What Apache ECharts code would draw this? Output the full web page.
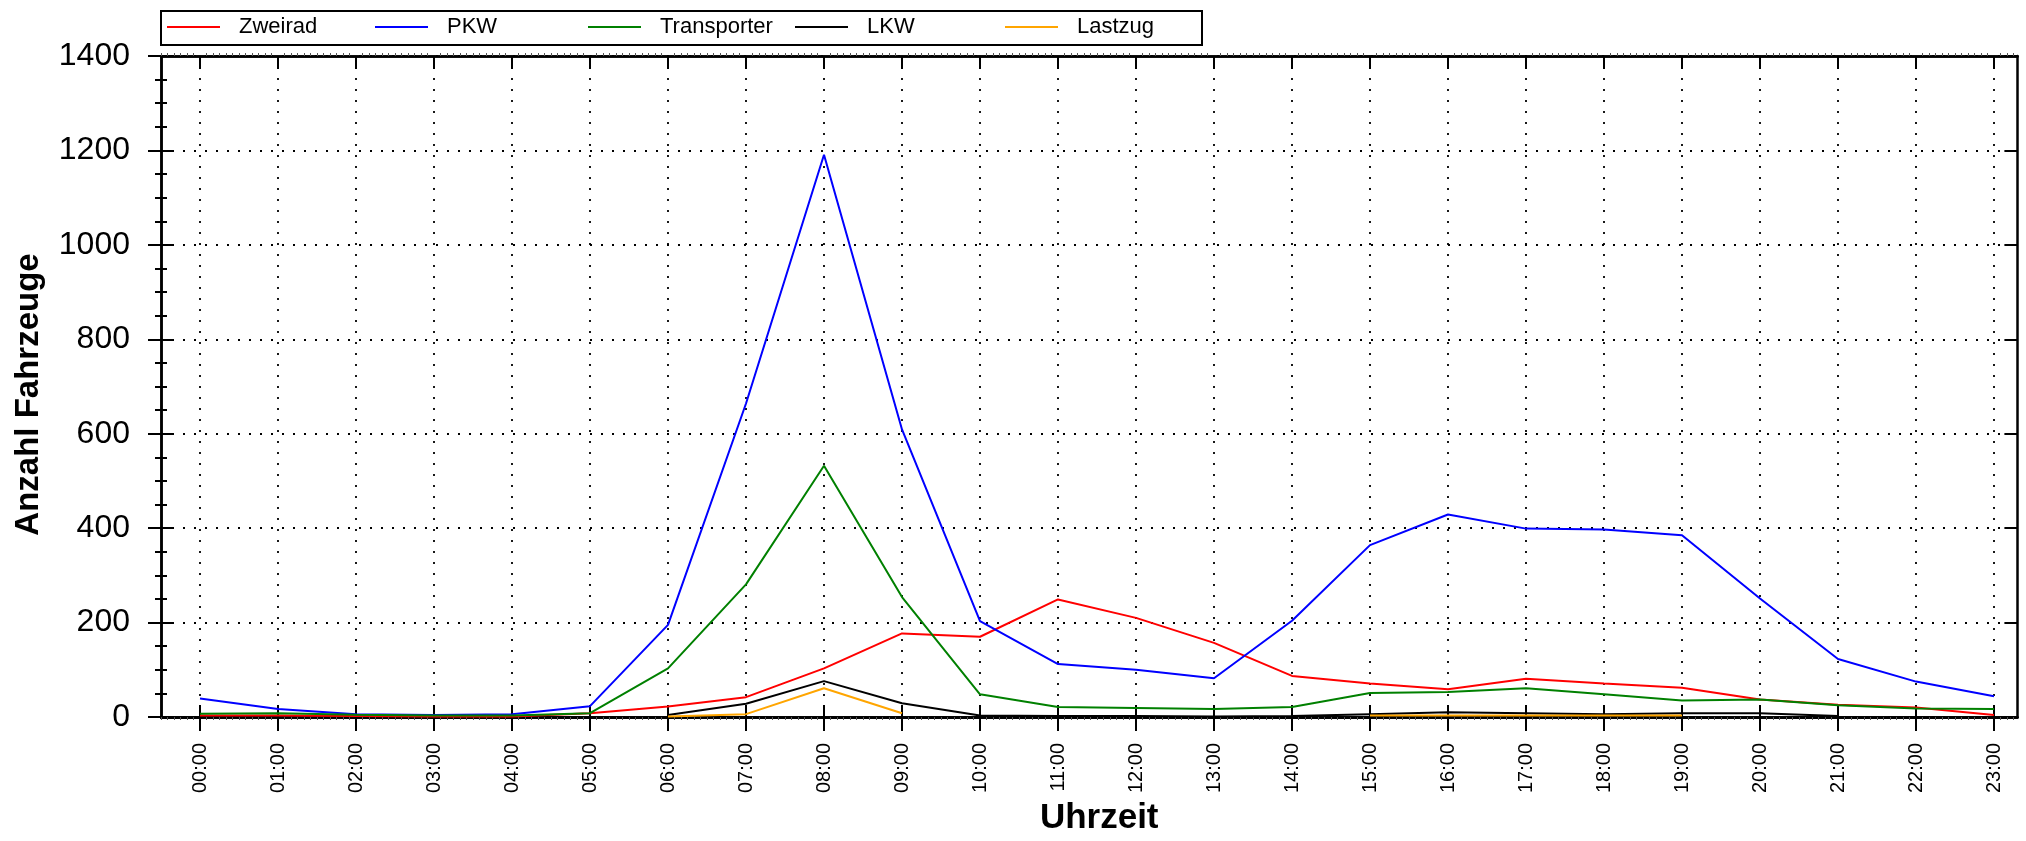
<!DOCTYPE html>
<html>
<head>
<meta charset="utf-8">
<script src="https://cdn.jsdelivr.net/npm/echarts@6/dist/echarts.min.js"></script>
<style>
html,body{margin:0;padding:0;background:#fff;}
#chart{width:2026px;height:841px;}
</style>
</head>
<body>
<div id="chart"></div>
<script>
// ---- data ----
const hours = [0,1,2,3,4,5,6,7,8,9,10,11,12,13,14,15,16,17,18,19,20,21,22,23];
const hourLabels = ['00:00','01:00','02:00','03:00','04:00','05:00','06:00','07:00','08:00','09:00','10:00','11:00','12:00','13:00','14:00','15:00','16:00','17:00','18:00','19:00','20:00','21:00','22:00','23:00'];
const seriesNames = ['Zweirad','PKW','Transporter','LKW','Lastzug'];
const zweirad     = [3, 3, 2, 1, 1, 8, 22, 42, 103, 177, 170, 249, 210, 157, 87, 71, 59, 81, 71, 62, 37, 26, 20, 4];
const pkw         = [39, 17, 6, 4, 6, 23, 195, 664, 1191, 609, 203, 112, 100, 82, 204, 364, 429, 399, 397, 385, 251, 123, 75, 44];
const transporter = [7, 8, 5, 3, 3, 8, 103, 281, 532, 254, 48, 21, 19, 17, 21, 51, 53, 61, 48, 35, 37, 25, 18, 17];
const lkw         = [null, null, null, null, null, null, 4, 28, 76, 29, 3, 2, 2, 1, 2, 6, 10, 8, 6, 8, 8, 2, null, null];
const lastzug     = [null, null, null, null, null, null, 1, 6, 61, 8, null, null, null, null, null, 3, 3, 3, 3, 3, null, null, null, null];
const yTicks = [0, 200, 400, 600, 800, 1000, 1200, 1400];

const colors = ['#ff0000', '#0000ff', '#008000', '#000000', '#ffa500'];
const values = [zweirad, pkw, transporter, lkw, lastzug];
const legendLeft = [167, 375, 588, 795, 1005];

// minor tick positions along the time axis (every 5 minutes)
const minorHours = [];
for (let k = -6; k <= 23 * 12 + 3; k++) { if (k % 12 !== 0) minorHours.push(k / 12); }

const chart = echarts.init(document.getElementById('chart'), null, {renderer: 'canvas'});
const FONT = 'Liberation Sans, Arial, sans-serif';
const dotted = {color: '#000', width: 1.8, type: [2, 9]};
const axisLine = {show: true, onZero: false, lineStyle: {color: '#000', width: 2.5}};

const xBase = {
  type: 'value', min: -0.5, max: 23.3,
  axisLine: axisLine,
  splitLine: {show: false},
  axisLabel: {show: false},
  axisTick: {show: true, customValues: hours, length: 13, lineStyle: {color: '#000', width: 2}},
  minorTick: {show: false}
};

const option = {
  animation: false,
  backgroundColor: '#fff',
  grid: {left: 161, right: 8.6, top: 56, bottom: 115.5, containLabel: false},
  legend: seriesNames.map((n, i) => ({
    data: [n], left: legendLeft[i], top: 15, padding: 0,
    icon: 'rect', itemWidth: 53, itemHeight: 2,
    textStyle: {fontSize: 22, fontFamily: FONT, color: '#000', padding: [0, 0, 0, 14], lineHeight: 24}
  })),
  graphic: [{
    type: 'rect', left: 160, top: 10, z: -1,
    shape: {x: 0, y: 0, width: 1041, height: 34},
    style: {fill: '#fff', stroke: '#000', lineWidth: 2}
  }],
  xAxis: [
    Object.assign({}, xBase, {
      position: 'bottom',
      axisTick: {show: true, customValues: hours, length: 14, inside: false, lineStyle: {color: '#000', width: 2}},
      axisLabel: {show: true, customValues: hours, rotate: 90, margin: 26, fontSize: 20, fontFamily: FONT, color: '#000',
        formatter: v => hourLabels[hours.indexOf(Math.round(v))]},
      splitLine: {show: true, lineStyle: dotted},
      name: 'Uhrzeit', nameLocation: 'middle', nameGap: 84,
      nameTextStyle: {fontSize: 35, fontWeight: 'bold', fontFamily: FONT, color: '#000', padding: [0, 0, 0, 20]}
    }),
    Object.assign({}, xBase, {
      position: 'bottom',
      axisTick: {show: true, customValues: hours, length: 12, inside: true, lineStyle: {color: '#000', width: 2}}
    }),
    Object.assign({}, xBase, {
      position: 'top',
      axisTick: {show: true, customValues: hours, length: 13, inside: true, lineStyle: {color: '#000', width: 2}}
    }),
    Object.assign({}, xBase, {
      position: 'bottom',
      axisTick: {show: true, customValues: minorHours, length: 3, inside: false, lineStyle: {color: '#555', width: 1}}
    }),
    Object.assign({}, xBase, {
      position: 'top',
      axisTick: {show: true, customValues: minorHours, length: 3, inside: false, lineStyle: {color: '#555', width: 1}}
    })
  ],
  yAxis: [
    {
      type: 'value', min: 0, max: 1400, interval: 200, position: 'left',
      axisLine: axisLine,
      axisTick: {show: true, length: 13, inside: false, lineStyle: {color: '#000', width: 2}},
      minorTick: {show: true, splitNumber: 4, length: 6, lineStyle: {color: '#000', width: 2}},
      axisLabel: {show: true, margin: 31, fontSize: 32, fontFamily: FONT, color: '#000',
        formatter: v => String(v)},
      splitLine: {show: true, lineStyle: dotted},
      name: 'Anzahl Fahrzeuge', nameLocation: 'middle', nameGap: 116,
      nameTextStyle: {fontSize: 33, fontWeight: 'bold', fontFamily: FONT, color: '#000', padding: [0, 16, 0, 0]}
    },
    {
      type: 'value', min: 0, max: 1400, interval: 200, position: 'left',
      axisLine: axisLine,
      axisTick: {show: true, length: 13, inside: true, lineStyle: {color: '#000', width: 2}},
      minorTick: {show: true, splitNumber: 4, length: 6, lineStyle: {color: '#000', width: 2}},
      axisLabel: {show: false}, splitLine: {show: false}
    },
    {
      type: 'value', min: 0, max: 1400, interval: 200, position: 'right',
      axisLine: axisLine,
      axisTick: {show: true, length: 13, inside: true, lineStyle: {color: '#000', width: 2}},
      minorTick: {show: false},
      axisLabel: {show: false}, splitLine: {show: false}
    }
  ],
  series: seriesNames.map((n, i) => ({
    name: n, type: 'line', xAxisIndex: 0, yAxisIndex: 0,
    data: hours.map((h, j) => [h, values[i][j]]),
    showSymbol: false, symbol: 'none', connectNulls: false,
    lineStyle: {color: colors[i], width: 2},
    itemStyle: {color: colors[i]},
    z: 2
  }))
};
chart.setOption(option);
</script>
</body>
</html>
